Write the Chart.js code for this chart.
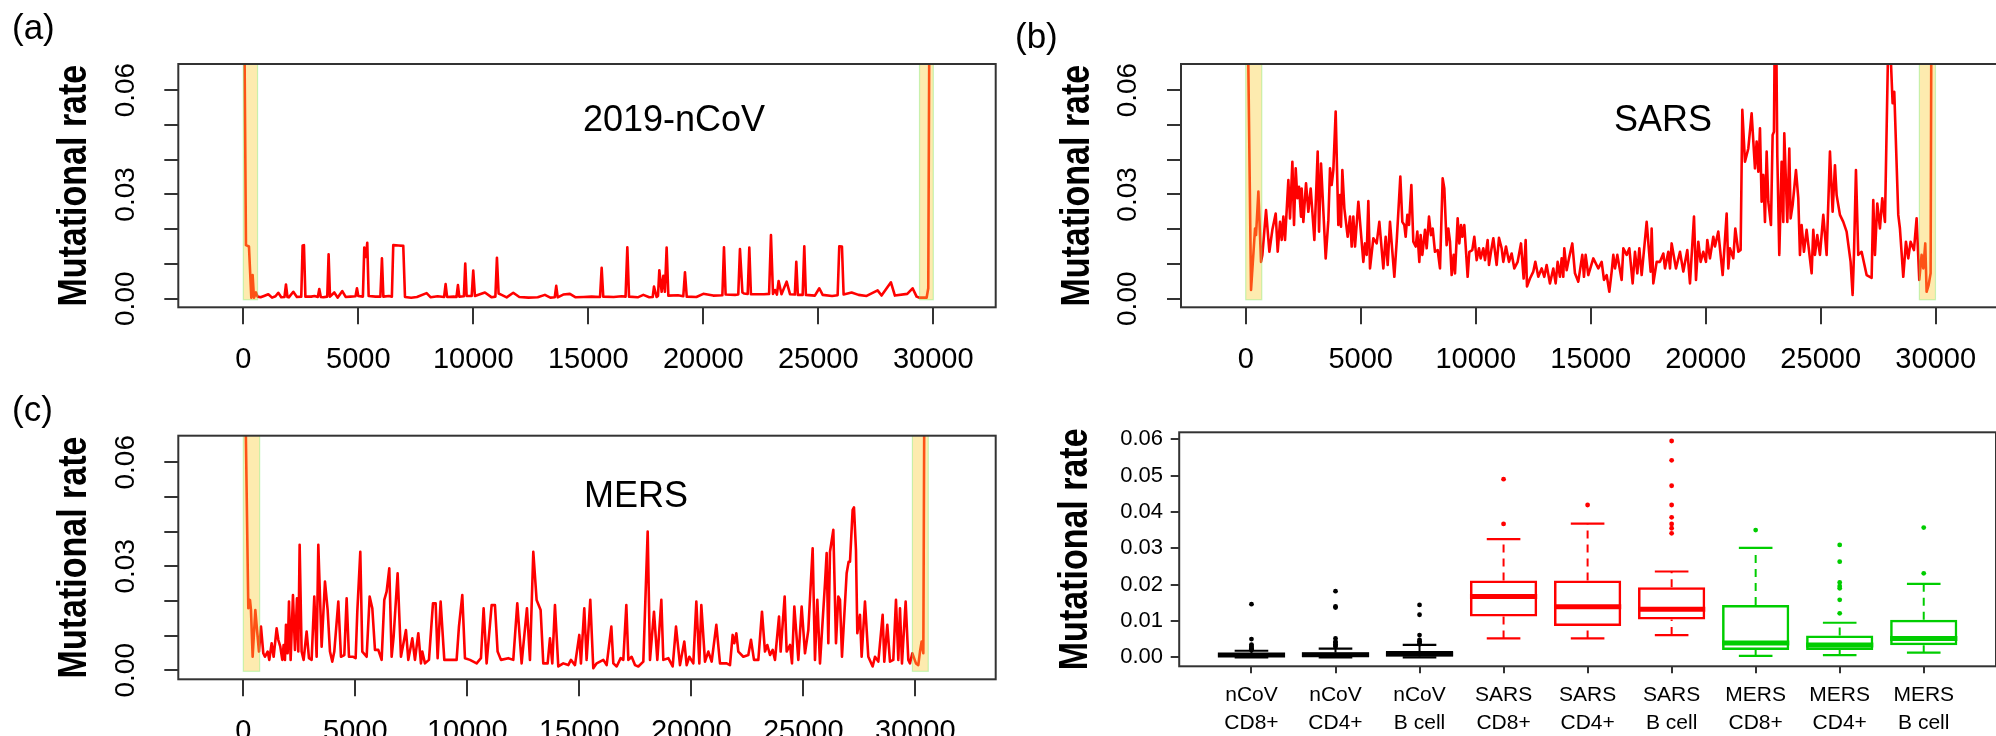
<!DOCTYPE html>
<html><head><meta charset="utf-8">
<script src="https://cdn.jsdelivr.net/npm/chart.js@4.4.1/dist/chart.umd.min.js"></script>
<style>
html,body{margin:0;padding:0;background:#fff;overflow:hidden;width:1996px;height:736px;position:relative;}
canvas{position:absolute;}
</style></head><body>
<canvas id="ca" width="1000" height="380" style="left:0;top:0"></canvas>
<canvas id="cb" width="1000" height="380" style="left:1000px;top:0"></canvas>
<canvas id="cc" width="1000" height="356" style="left:0;top:380px"></canvas>
<canvas id="cd" width="1000" height="356" style="left:1000px;top:380px"></canvas>
<script>
// ---------------- data ----------------
const genomeTicks = [0, 5000, 10000, 15000, 20000, 25000, 30000];
const rateTicks = [0, 0.01, 0.02, 0.03, 0.04, 0.05, 0.06];
const rateLabelTicks = [0, 0.03, 0.06];
const yAxisTitle = 'Mutational rate';

// [genome position, mutational rate]
const ncovTrace = [[0,0.12],[116,0.0154],[246,0.0150],[348,0.0003],[406,0.0068],[464,0.0003],[551,0.0018],[620,0.0006],[750,0.0004],[900,0.0008],
[1087,0.0013],[1250,0.0003],[1400,0.0007],[1521,0.0017],[1650,0.0004],[1790,0.0005],[1855,0.0041],[1920,0.0005],[1980,0.0004],[2174,0.0020],
[2330,0.0005],[2520,0.0006],[2579,0.0153],[2637,0.0154],[2700,0.0006],[2950,0.0006],[3100,0.0008],[3240,0.0005],[3304,0.0028],[3370,0.0005],
[3480,0.0004],[3650,0.0006],[3709,0.0128],[3770,0.0006],[3956,0.0018],[4100,0.0003],[4304,0.0022],[4450,0.0005],[4650,0.0006],[4880,0.0007],
[4941,0.0030],[5000,0.0008],[5200,0.0006],[5260,0.0147],[5330,0.0120],[5390,0.0161],[5450,0.0008],[5750,0.0006],[5960,0.0006],[6028,0.0116],
[6090,0.0006],[6330,0.0008],[6460,0.0006],[6520,0.0154],[6750,0.0153],[6955,0.0152],[7030,0.0005],[7300,0.0003],[7550,0.0005],[7970,0.0016],
[8150,0.0004],[8450,0.0007],[8730,0.0005],[8796,0.0042],[8860,0.0005],[9150,0.0006],[9270,0.0005],[9332,0.0039],[9390,0.0006],[9590,0.0007],
[9650,0.0101],[9710,0.0008],[9930,0.0008],[9998,0.0081],[10070,0.0008],[10505,0.0018],[10800,0.0004],[10960,0.0006],[11027,0.0118],[11100,0.0015],
[11230,0.0011],[11450,0.0004],[11737,0.0017],[12000,0.0005],[12400,0.0003],[12800,0.0004],[13113,0.0011],[13350,0.0003],[13540,0.0004],[13606,0.0037],
[13670,0.0004],[13910,0.0012],[14200,0.0014],[14450,0.0004],[14800,0.0005],[15150,0.0006],[15510,0.0005],[15581,0.0089],[15650,0.0006],[16100,0.0005],
[16450,0.0007],[16620,0.0006],[16697,0.0148],[16770,0.0006],[17150,0.0004],[17392,0.0011],[17650,0.0004],[17800,0.0005],[17856,0.0035],[17970,0.0005],
[18030,0.0008],[18088,0.0082],[18189,0.0020],[18262,0.0066],[18330,0.0020],[18406,0.0147],[18480,0.0009],[18900,0.0010],[19130,0.0007],[19203,0.0076],
[19280,0.0006],[19700,0.0005],[20000,0.0014],[20430,0.0009],[20830,0.0010],[20899,0.0148],[20970,0.0012],[21380,0.0011],[21520,0.0012],[21594,0.0143],
[21700,0.0018],[21768,0.0015],[21930,0.0014],[22000,0.0147],[22070,0.0013],[22640,0.0013],[22860,0.0014],[22942,0.0183],[23030,0.0014],[23116,0.0025],
[23200,0.0012],[23275,0.0051],[23400,0.0013],[23623,0.0049],[23770,0.0013],[23980,0.0012],[24043,0.0106],[24110,0.0011],[24320,0.0011],[24391,0.0151],
[24460,0.0011],[24850,0.0009],[25043,0.0030],[25190,0.0011],[25600,0.0008],[25840,0.0010],[25912,0.0151],[26028,0.0150],[26100,0.0012],[26448,0.0018],
[26750,0.0011],[27100,0.0008],[27578,0.0024],[27750,0.0009],[28158,0.0047],[28330,0.0009],[28868,0.0014],[29100,0.0030],[29274,0.0006],[29400,0.0003],
[29709,0.0003],[29781,0.0030],[29903,0.20]];

const sarsTrace = [[0,0.13],[232,0.0025],[406,0.0202],[449,0.0183],[551,0.0308],[667,0.0106],[725,0.0126],[884,0.0255],[1029,0.0135],[1159,0.0198],
[1304,0.0245],[1391,0.0135],[1492,0.0221],[1565,0.0169],[1637,0.0236],[1710,0.0169],[1855,0.0341],[1927,0.0231],[2029,0.0394],[2101,0.0212],
[2174,0.0375],[2246,0.0289],[2318,0.0322],[2405,0.0236],[2434,0.0317],[2507,0.0221],[2623,0.0332],[2724,0.0250],[2826,0.0317],[2985,0.0169],
[3130,0.0423],[3188,0.0193],[3275,0.0389],[3478,0.0116],[3594,0.0226],[3666,0.0375],[3738,0.0327],[3811,0.0370],[3912,0.0538],[4028,0.0212],
[4101,0.0298],[4144,0.0207],[4202,0.0370],[4289,0.0260],[4434,0.0178],[4535,0.0236],[4608,0.0150],[4680,0.0236],[4753,0.0150],[4898,0.0279],
[5115,0.0106],[5187,0.0159],[5260,0.0126],[5332,0.0281],[5405,0.0087],[5550,0.0174],[5695,0.0159],[5810,0.0221],[5984,0.0087],[6086,0.0178],
[6173,0.0097],[6274,0.0221],[6463,0.0063],[6564,0.0164],[6723,0.0351],[6810,0.0221],[6897,0.0212],[6955,0.0178],[7028,0.0241],[7100,0.0212],
[7202,0.0327],[7288,0.0164],[7390,0.0150],[7462,0.0193],[7549,0.0106],[7607,0.0183],[7680,0.0126],[7796,0.0198],[7868,0.0145],[7970,0.0236],
[8056,0.0183],[8129,0.0202],[8230,0.0135],[8346,0.0140],[8448,0.0087],[8564,0.0346],[8636,0.0317],[8737,0.0154],[8810,0.0202],[8882,0.0164],
[8955,0.0068],[9042,0.0126],[9100,0.0073],[9216,0.0231],[9288,0.0159],[9361,0.0212],[9419,0.0178],[9505,0.0212],[9650,0.0063],[9723,0.0135],
[9853,0.0140],[9940,0.0178],[10042,0.0111],[10143,0.0145],[10215,0.0116],[10331,0.0145],[10404,0.0111],[10520,0.0169],[10578,0.0097],[10665,0.0135],
[10766,0.0174],[10911,0.0097],[11012,0.0175],[11128,0.0145],[11201,0.0106],[11317,0.0150],[11447,0.0106],[11563,0.0130],[11679,0.0087],[11824,0.0106],
[11969,0.0159],[12085,0.0058],[12172,0.0169],[12230,0.0035],[12360,0.0058],[12505,0.0078],[12592,0.0106],[12722,0.0063],[12867,0.0087],[12983,0.0063],
[13084,0.0097],[13229,0.0044],[13374,0.0087],[13476,0.0044],[13563,0.0106],[13664,0.0063],[13737,0.0116],[13809,0.0063],[13852,0.0145],[13954,0.0082],
[14055,0.0116],[14200,0.0159],[14316,0.0073],[14461,0.0049],[14635,0.0126],[14707,0.0063],[14780,0.0126],[14896,0.0068],[15113,0.0116],[15332,0.0087],
[15477,0.0106],[15578,0.0054],[15694,0.0068],[15810,0.0020],[15912,0.0078],[15984,0.0126],[16056,0.0087],[16158,0.0126],[16346,0.0054],[16419,0.0145],
[16564,0.0126],[16680,0.0145],[16824,0.0044],[16926,0.0135],[17027,0.0073],[17114,0.0145],[17216,0.0068],[17433,0.0221],[17607,0.0078],[17650,0.0202],
[17723,0.0044],[17868,0.0106],[18013,0.0106],[18158,0.0130],[18230,0.0087],[18375,0.0135],[18447,0.0087],[18520,0.0159],[18708,0.0087],[18882,0.0135],
[19027,0.0078],[19201,0.0140],[19317,0.0044],[19491,0.0236],[19578,0.0054],[19679,0.0164],[19780,0.0106],[19896,0.0135],[20012,0.0106],[20070,0.0169],
[20186,0.0116],[20331,0.0178],[20403,0.0150],[20548,0.0193],[20737,0.0068],[20911,0.0245],[20983,0.0087],[21056,0.0145],[21200,0.0116],[21287,0.0202],
[21418,0.0135],[21519,0.0140],[21592,0.0543],[21708,0.0394],[21853,0.0432],[21997,0.0533],[22142,0.0375],[22215,0.0452],[22287,0.0365],[22360,0.0490],
[22432,0.0279],[22505,0.0356],[22577,0.0221],[22650,0.0423],[22722,0.0279],[22838,0.0212],[22910,0.0471],[22968,0.0480],[23012,0.085],[23055,0.085],
[23113,0.0413],[23200,0.0126],[23301,0.0394],[23374,0.0221],[23417,0.0476],[23548,0.0221],[23635,0.0432],[23693,0.0231],[23780,0.0269],[23925,0.0370],
[24026,0.0289],[24098,0.0126],[24171,0.0212],[24272,0.0135],[24388,0.0198],[24606,0.0073],[24678,0.0198],[24750,0.0126],[24852,0.0183],[24968,0.0126],
[25113,0.0241],[25258,0.0126],[25403,0.0423],[25519,0.0250],[25620,0.0384],[25693,0.0298],[25837,0.0241],[25982,0.0221],[26127,0.0193],[26301,0.0106],
[26388,0.0011],[26446,0.0126],[26533,0.0370],[26634,0.0126],[26779,0.0135],[26997,0.0068],[27214,0.0060],[27286,0.0284],[27359,0.0126],[27460,0.0274],
[27576,0.0202],[27678,0.0289],[27794,0.0221],[27939,0.075],[28011,0.075],[28127,0.0562],[28199,0.0595],[28373,0.0241],[28445,0.0202],[28590,0.0063],
[28706,0.0164],[28808,0.0116],[28909,0.0164],[29054,0.0140],[29170,0.0231],[29286,0.0054],[29387,0.0126],[29460,0.0087],[29547,0.0159],[29605,0.0020],
[29692,0.0039],[29779,0.0073],[29866,0.20]];

const mersTrace = [[0,0.12],[223,0.0179],[298,0.0203],[342,0.0174],[417,0.0039],[536,0.0174],[625,0.0107],[699,0.0054],[789,0.0126],[893,0.0049],
[967,0.0039],[1086,0.0054],[1161,0.0030],[1265,0.0078],[1354,0.0039],[1488,0.0121],[1562,0.0088],[1652,0.0068],[1741,0.0030],[1800,0.0073],
[1860,0.0030],[1905,0.0131],[1979,0.0049],[2039,0.0198],[2113,0.0030],[2217,0.0217],[2306,0.0059],[2396,0.0208],[2455,0.0054],[2515,0.0362],
[2604,0.0054],[2693,0.0030],[2827,0.0112],[2931,0.0035],[3050,0.0030],[3169,0.0213],[3274,0.0039],[3348,0.0362],[3497,0.0068],[3646,0.0256],
[3765,0.0174],[3869,0.0054],[3973,0.0025],[4062,0.0054],[4241,0.0198],[4360,0.0039],[4509,0.0044],[4613,0.0208],[4717,0.0039],[4910,0.0039],
[5015,0.0035],[5089,0.0169],[5223,0.0342],[5312,0.0054],[5506,0.0039],[5640,0.0213],[5759,0.0179],[5878,0.0059],[6026,0.0059],[6175,0.0030],
[6294,0.0203],[6398,0.0227],[6517,0.0294],[6622,0.0039],[6711,0.0097],[6889,0.0280],[7038,0.0039],[7261,0.0116],[7366,0.0030],[7544,0.0092],
[7663,0.0030],[7812,0.0107],[7931,0.0020],[7991,0.0054],[8110,0.0020],[8288,0.0030],[8467,0.0193],[8586,0.0193],[8675,0.0035],[8809,0.0198],
[8973,0.0030],[9300,0.0030],[9523,0.0030],[9627,0.0126],[9776,0.0217],[9895,0.0035],[10118,0.0030],[10416,0.0020],[10609,0.0035],[10728,0.0179],
[10862,0.0020],[11086,0.0188],[11234,0.0188],[11353,0.0054],[11502,0.0030],[11830,0.0035],[12053,0.0030],[12231,0.0193],[12425,0.0020],[12663,0.0179],
[12797,0.0030],[12946,0.0342],[13094,0.0203],[13273,0.0174],[13392,0.0020],[13586,0.0020],[13690,0.0092],[13794,0.0020],[13913,0.0188],[14062,0.0011],
[14285,0.0020],[14508,0.0015],[14627,0.0030],[14806,0.0015],[15000,0.0102],[15073,0.0020],[15222,0.0179],[15326,0.0030],[15490,0.0203],[15624,0.0006],
[15775,0.0020],[16073,0.0030],[16221,0.0015],[16430,0.0126],[16519,0.0020],[16668,0.0011],[16846,0.0035],[16965,0.0030],[17099,0.0188],[17189,0.0030],
[17337,0.0039],[17486,0.0015],[17635,0.0011],[17858,0.0025],[18052,0.0400],[18156,0.0030],[18334,0.0169],[18483,0.0030],[18662,0.0203],[18751,0.0030],
[18974,0.0035],[19168,0.0011],[19317,0.0126],[19495,0.0015],[19688,0.0083],[19793,0.0015],[19912,0.0039],[20090,0.0020],[20224,0.0198],[20358,0.0020],
[20447,0.0188],[20611,0.0025],[20760,0.0054],[20909,0.0025],[21117,0.0131],[21281,0.0020],[21578,0.0020],[21727,0.0015],[21846,0.0102],[21920,0.0078],
[22010,0.0107],[22099,0.0054],[22322,0.0039],[22545,0.0044],[22664,0.0088],[22798,0.0030],[22992,0.0030],[23155,0.0169],[23289,0.0054],[23394,0.0073],
[23513,0.0044],[23632,0.0059],[23736,0.0030],[23915,0.0155],[23989,0.0054],[24168,0.0213],[24257,0.0054],[24406,0.0073],[24495,0.0020],[24599,0.0184],
[24778,0.0030],[24926,0.0184],[25075,0.0049],[25224,0.0116],[25417,0.0352],[25521,0.0030],[25626,0.0203],[25745,0.0020],[25968,0.0251],[26042,0.0338],
[26117,0.0078],[26191,0.0342],[26340,0.0405],[26459,0.0078],[26563,0.0213],[26637,0.0203],[26727,0.0039],[26935,0.0280],[27024,0.0313],[27084,0.0313],
[27203,0.0463],[27262,0.0470],[27351,0.0347],[27411,0.0107],[27530,0.0160],[27604,0.0039],[27753,0.0198],[27902,0.0039],[28096,0.0011],[28200,0.0039],
[28349,0.0025],[28542,0.0160],[28616,0.0025],[28750,0.0131],[28869,0.0025],[29018,0.0030],[29137,0.0203],[29241,0.0030],[29316,0.0179],[29405,0.0020],
[29569,0.0198],[29688,0.0030],[29762,0.0020],[29866,0.0049],[30030,0.0020],[30134,0.0015],[30209,0.0054],[30283,0.0083],[30358,0.0049],[30477,0.20]];

// highlighted terminal regions [start, end]
const ncovBands = [[0, 620], [29400, 30000]];
const sarsBands = [[0, 700], [29290, 29990]];
const mersBands = [[0, 730], [29870, 30580]];

// box plot (panel d)
const boxLabels = [['nCoV','CD8+'],['nCoV','CD4+'],['nCoV','B cell'],['SARS','CD8+'],['SARS','CD4+'],['SARS','B cell'],['MERS','CD8+'],['MERS','CD4+'],['MERS','B cell']];
const boxPos = [1, 2, 3, 4, 5, 6, 7, 8, 9];
const boxQ1 = [0.0000, 0.0001, 0.0002, 0.0112, 0.0086, 0.0104, 0.0020, 0.0020, 0.0033];
const boxMedian = [0.0006, 0.0007, 0.0009, 0.0167, 0.0139, 0.0132, 0.0039, 0.0034, 0.0052];
const boxQ3 = [0.0011, 0.0013, 0.0017, 0.0211, 0.0211, 0.0193, 0.0144, 0.0060, 0.0103];
const whiskerLow = [0.0000, 0.0000, 0.0000, 0.0052, 0.0052, 0.0061, 0.0004, 0.0006, 0.0013];
const whiskerHigh = [0.0018, 0.0024, 0.0034, 0.0325, 0.0368, 0.0236, 0.0301, 0.0095, 0.0202];
const boxOutliers = [
  [0.0020, 0.0022, 0.0025, 0.0028, 0.0031, 0.0035, 0.0050, 0.0146],
  [0.0029, 0.0032, 0.0036, 0.0040, 0.0043, 0.0052, 0.0137, 0.0140, 0.0182],
  [0.0036, 0.0040, 0.0044, 0.0048, 0.0061, 0.0117, 0.0144],
  [0.0367, 0.0490],
  [0.0419],
  [0.0341, 0.0355, 0.0367, 0.0385, 0.0419, 0.0472, 0.0542, 0.0595],
  [0.0350],
  [0.0121, 0.0158, 0.0190, 0.0196, 0.0206, 0.0263, 0.0309],
  [0.0231, 0.0357]
];
const groupColor = ['#000000','#000000','#000000','#FF0000','#FF0000','#FF0000','#00CD00','#00CD00','#00CD00'];

// ---------------- setup ----------------
Chart.defaults.font.family = "'Liberation Sans', Arial, sans-serif";
Chart.defaults.color = '#000';
const AXIS = '#333';

function makeDeco(cfg) {
  return {
    id: 'rdeco',
    afterDatasetsDraw(chart) {
      if (!cfg.bands) return;
      const {ctx, chartArea: a, scales: {x, y}} = chart;
      ctx.save();
      ctx.beginPath(); ctx.rect(a.left, a.top, a.right - a.left, a.bottom - a.top); ctx.clip();
      const yb = y.getPixelForValue(cfg.bandFloor);
      cfg.bands.forEach(([b0, b1]) => {
        const x0 = x.getPixelForValue(b0), x1 = x.getPixelForValue(b1);
        ctx.fillStyle = 'rgba(250,205,55,0.40)';
        ctx.fillRect(x0, a.top - 2, x1 - x0, yb - a.top + 2);
        ctx.strokeStyle = 'rgba(120,235,110,0.40)';
        ctx.lineWidth = 1.2;
        ctx.strokeRect(x0, a.top - 2, x1 - x0, yb - a.top + 2);
      });
      ctx.restore();
    },
    afterDraw(chart) {
      const {ctx, chartArea: a, scales: {x, y}} = chart;
      ctx.save();
      ctx.strokeStyle = AXIS; ctx.lineWidth = 2;
      ctx.strokeRect(a.left, a.top, a.right - a.left, a.bottom - a.top);
      ctx.fillStyle = '#000';
      // axis title, rotated like R's ylab
      ctx.font = "bold 34px 'Liberation Sans', Arial";
      ctx.textAlign = 'center'; ctx.textBaseline = 'middle';
      ctx.save();
      ctx.translate(a.left - 103.3, (a.top + a.bottom) / 2);
      ctx.rotate(-Math.PI / 2);
      ctx.scale(1, 1.18);
      ctx.fillText(yAxisTitle, 0, 0);
      ctx.restore();
      if (cfg.yLabels) {
        ctx.font = "28px 'Liberation Sans', Arial";
        cfg.yLabels.forEach(v => {
          ctx.save();
          ctx.translate(a.left - 52.5, y.getPixelForValue(v));
          ctx.rotate(-Math.PI / 2);
          ctx.fillText(v.toFixed(2), 0, 0);
          ctx.restore();
        });
      }
      if (cfg.name) {
        ctx.font = "36px 'Liberation Sans', Arial";
        ctx.fillText(cfg.name.text, x.getPixelForValue(cfg.name.x), y.getPixelForValue(cfg.name.y));
      }
      if (cfg.letter) {
        ctx.font = "35px 'Liberation Sans', Arial";
        ctx.textAlign = 'left';
        ctx.fillText(cfg.letter.text, cfg.letter.px, cfg.letter.py);
      }
      ctx.restore();
    }
  };
}

function makeTrace(id, trace, o) {
  new Chart(document.getElementById(id), {
    type: 'line',
    data: {datasets: [{
      data: trace.map(p => ({x: p[0], y: p[1]})),
      borderColor: '#FF0000', borderWidth: 2.6, pointRadius: 0, tension: 0,
      borderJoinStyle: 'round', borderCapStyle: 'round', fill: false
    }]},
    options: {
      responsive: false, animation: false, devicePixelRatio: 1,
      layout: {padding: o.pad},
      plugins: {legend: {display: false}, tooltip: {enabled: false}},
      events: [],
      scales: {
        x: {
          type: 'linear', min: o.xmin, max: o.xmax,
          afterBuildTicks: s => { s.ticks = genomeTicks.map(v => ({value: v})); },
          afterFit: s => { s.height = o.xh; },
          grid: {drawOnChartArea: false, drawTicks: true, tickLength: 17, color: AXIS, lineWidth: 2},
          border: {display: false},
          ticks: {autoSkip: false, maxRotation: 0, minRotation: 0, padding: 18.3,
                  font: {size: 29, lineHeight: 1.2}, color: '#000', callback: v => String(v)}
        },
        y: {
          type: 'linear', min: o.ymin, max: o.ymax,
          afterBuildTicks: s => { s.ticks = rateTicks.map(v => ({value: v})); },
          afterFit: s => { s.width = o.yw; },
          grid: {drawOnChartArea: false, drawTicks: true, tickLength: 14, color: AXIS, lineWidth: 2},
          border: {display: false},
          ticks: {display: false}
        }
      }
    },
    plugins: [makeDeco({bands: o.bands, bandFloor: -0.0003, yLabels: rateLabelTicks, name: o.name, letter: o.letter})]
  });
}

makeTrace('ca', ncovTrace, {
  pad: {left: 0, top: 64, right: 4.3, bottom: 0}, xh: 72.7, yw: 178.3,
  xmin: -2826, xmax: 32713, ymin: -0.00247, ymax: 0.0675,
  bands: ncovBands, name: {text: '2019-nCoV', x: 18726, y: 0.0511}, letter: {text: '(a)', px: 12, py: 29}
});
makeTrace('cb', sarsTrace, {
  pad: {left: 0, top: 64, right: 2, bottom: 0}, xh: 72.7, yw: 181,
  xmin: -2813, xmax: 32709, ymin: -0.00247, ymax: 0.0675,
  bands: sarsBands, name: {text: 'SARS', x: 18143, y: 0.0510}, letter: {text: '(b)', px: 15, py: 38}
});
makeTrace('cc', mersTrace, {
  pad: {left: 0, top: 55.7, right: 4.3, bottom: 0}, xh: 56.7, yw: 178.3,
  xmin: -2902, xmax: 33589, ymin: -0.0026, ymax: 0.06767,
  bands: mersBands, name: {text: 'MERS', x: 17531, y: 0.0500}, letter: {text: '(c)', px: 12, py: 31}
});

// ---------------- box plot ----------------
function unitPx(chart, w) {
  const s = chart.scales.x;
  return Math.abs(s.getPixelForValue(1 + w) - s.getPixelForValue(1));
}
function whiskerData(color) {
  const d = [];
  boxPos.forEach((x, i) => {
    if (groupColor[i] !== color) return;
    d.push({x, y: boxQ3[i]}, {x, y: whiskerHigh[i]}, {x, y: null},
           {x, y: whiskerLow[i]}, {x, y: boxQ1[i]}, {x, y: null});
  });
  return d;
}
const outlierPts = [], outlierCols = [];
boxOutliers.forEach((arr, i) => arr.forEach(v => { outlierPts.push({x: boxPos[i], y: v}); outlierCols.push(groupColor[i]); }));

new Chart(document.getElementById('cd'), {
  type: 'bar',
  data: {datasets: [
    {type: 'scatter', data: boxPos.map((x, i) => ({x, y: boxMedian[i]})), pointStyle: 'line',
     pointRadius: c => unitPx(c.chart, 0.4), pointBorderWidth: 5, pointBorderColor: groupColor},
    {type: 'scatter', data: boxPos.map((x, i) => ({x, y: whiskerHigh[i]})), pointStyle: 'line',
     pointRadius: c => unitPx(c.chart, 0.2), pointBorderWidth: 2.2, pointBorderColor: groupColor},
    {type: 'scatter', data: boxPos.map((x, i) => ({x, y: whiskerLow[i]})), pointStyle: 'line',
     pointRadius: c => unitPx(c.chart, 0.2), pointBorderWidth: 2.2, pointBorderColor: groupColor},
    {type: 'scatter', data: outlierPts, pointRadius: 2.4, pointBorderWidth: 0, pointBackgroundColor: outlierCols},
    {type: 'line', data: whiskerData('#000000'), borderColor: '#000000', borderWidth: 2, borderDash: [8, 6], pointRadius: 0, spanGaps: false},
    {type: 'line', data: whiskerData('#FF0000'), borderColor: '#FF0000', borderWidth: 2, borderDash: [8, 6], pointRadius: 0, spanGaps: false},
    {type: 'line', data: whiskerData('#00CD00'), borderColor: '#00CD00', borderWidth: 2, borderDash: [8, 6], pointRadius: 0, spanGaps: false},
    {type: 'bar', data: boxPos.map((x, i) => ({x, y: [boxQ1[i], boxQ3[i]]})), backgroundColor: 'rgba(255,255,255,0)',
     borderColor: groupColor, borderWidth: 2.5, borderSkipped: false, barPercentage: 0.8, categoryPercentage: 1}
  ]},
  options: {
    responsive: false, animation: false, devicePixelRatio: 1,
    layout: {padding: {left: 0, top: 52.3, right: 1, bottom: 0}},
    plugins: {legend: {display: false}, tooltip: {enabled: false}},
    events: [],
    scales: {
      x: {
        type: 'linear', min: 0.14, max: 9.86, offset: false,
        afterBuildTicks: s => { s.ticks = boxPos.map(v => ({value: v})); },
        afterFit: s => { s.height = 69.7; },
        grid: {offset: false, drawOnChartArea: false, drawTicks: true, tickLength: 7, color: AXIS, lineWidth: 2},
        border: {display: false},
        ticks: {autoSkip: false, maxRotation: 0, minRotation: 0, padding: 8.2,
                font: {size: 21, lineHeight: 1.333}, color: '#000', callback: (v, i) => boxLabels[i]}
      },
      y: {
        type: 'linear', min: -0.00248, max: 0.0619,
        afterBuildTicks: s => { s.ticks = rateTicks.map(v => ({value: v})); },
        afterFit: s => { s.width = 179.2; },
        grid: {drawOnChartArea: false, drawTicks: true, tickLength: 8.5, color: AXIS, lineWidth: 2},
        border: {display: false},
        ticks: {padding: 7.7, font: {size: 22}, color: '#000', callback: v => v.toFixed(2)}
      }
    }
  },
  plugins: [makeDeco({})]
});
</script>
</body></html>
